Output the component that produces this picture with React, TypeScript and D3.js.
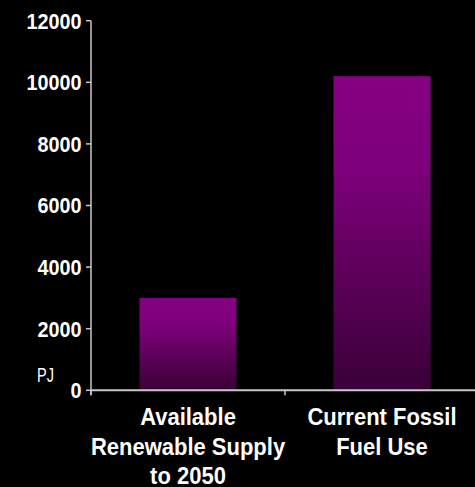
import React from "react";
import * as d3 from "d3";

const categories = ["Available Renewable Supply to 2050", "Current Fossil Fuel Use"];
const categoryLines = [["Available", "Renewable Supply", "to 2050"], ["Current Fossil", "Fuel Use"]];
const values = [3000, 10200];
const yTicks = [0, 2000, 4000, 6000, 8000, 10000, 12000];
const unitLabel = "PJ";

const W = 475;
const H = 487;

export default function App() {
  const y = d3.scaleLinear().domain([0, 12000]).range([390.3, 20.7]);
  const x = d3
    .scaleBand<string>()
    .domain(categories)
    .range([91, 479])
    .paddingInner(0.5)
    .paddingOuter(0.25);
  const step = x.step();
  const axisX = 91;
  const axisColor = "#c8c8c8";
  const font = "'Liberation Sans', Arial, sans-serif";
  const boundaries = [0, 1, 2].map((i) => x.range()[0] + i * step);

  return (
    <svg
      width={W}
      height={H}
      style={{ position: "fixed", left: 0, top: 0, background: "#000", display: "block" }}
    >
      <defs>
        <linearGradient id="barGrad" x1="0" y1="0" x2="0" y2="1">
          <stop offset="0%" stopColor="#860082" />
          <stop offset="28%" stopColor="#7e007c" />
          <stop offset="100%" stopColor="#3a0037" />
        </linearGradient>
      </defs>
      <rect x={0} y={0} width={W} height={H} fill="#000" />

      {categories.map((c, i) => (
        <rect
          key={c}
          x={x(c)}
          y={y(values[i])}
          width={x.bandwidth()}
          height={y(0) - y(values[i])}
          fill="url(#barGrad)"
        />
      ))}

      {/* y axis */}
      <line x1={axisX} x2={axisX} y1={y(12000)} y2={y(0) + 5} stroke={axisColor} strokeWidth={1.5} />
      {yTicks.map((t) => (
        <g key={t}>
          <line x1={axisX - 5} x2={axisX} y1={y(t)} y2={y(t)} stroke={axisColor} strokeWidth={1.5} />
          <text
            transform={`translate(81.5, ${y(t) + 7.8}) scale(1, 1.1)`}
            textAnchor="end"
            fill="#fff"
            fontFamily={font}
            fontWeight="bold"
            fontSize={19.8}
          >
            {t}
          </text>
        </g>
      ))}

      {/* x axis */}
      <line x1={axisX} x2={W} y1={y(0)} y2={y(0)} stroke={axisColor} strokeWidth={2} />
      {boundaries.map((b, i) => (
        <line key={i} x1={b} x2={b} y1={y(0)} y2={y(0) + 5} stroke={axisColor} strokeWidth={1.5} />
      ))}

      <text
        transform="translate(37, 382) scale(1, 1.35)"
        fill="#fff"
        fontFamily={font}
        fontSize={14.5}
      >
        {unitLabel}
      </text>

      {categories.map((c, i) => {
        const cx = (x(c) ?? 0) + x.bandwidth() / 2;
        return categoryLines[i].map((line, j) => (
          <text
            key={`${c}-${j}`}
            transform={`translate(${cx}, ${425 + j * 29.5}) scale(1, 1.1)`}
            textAnchor="middle"
            fill="#fff"
            fontFamily={font}
            fontWeight="bold"
            fontSize={22}
          >
            {line}
          </text>
        ));
      })}
    </svg>
  );
}
